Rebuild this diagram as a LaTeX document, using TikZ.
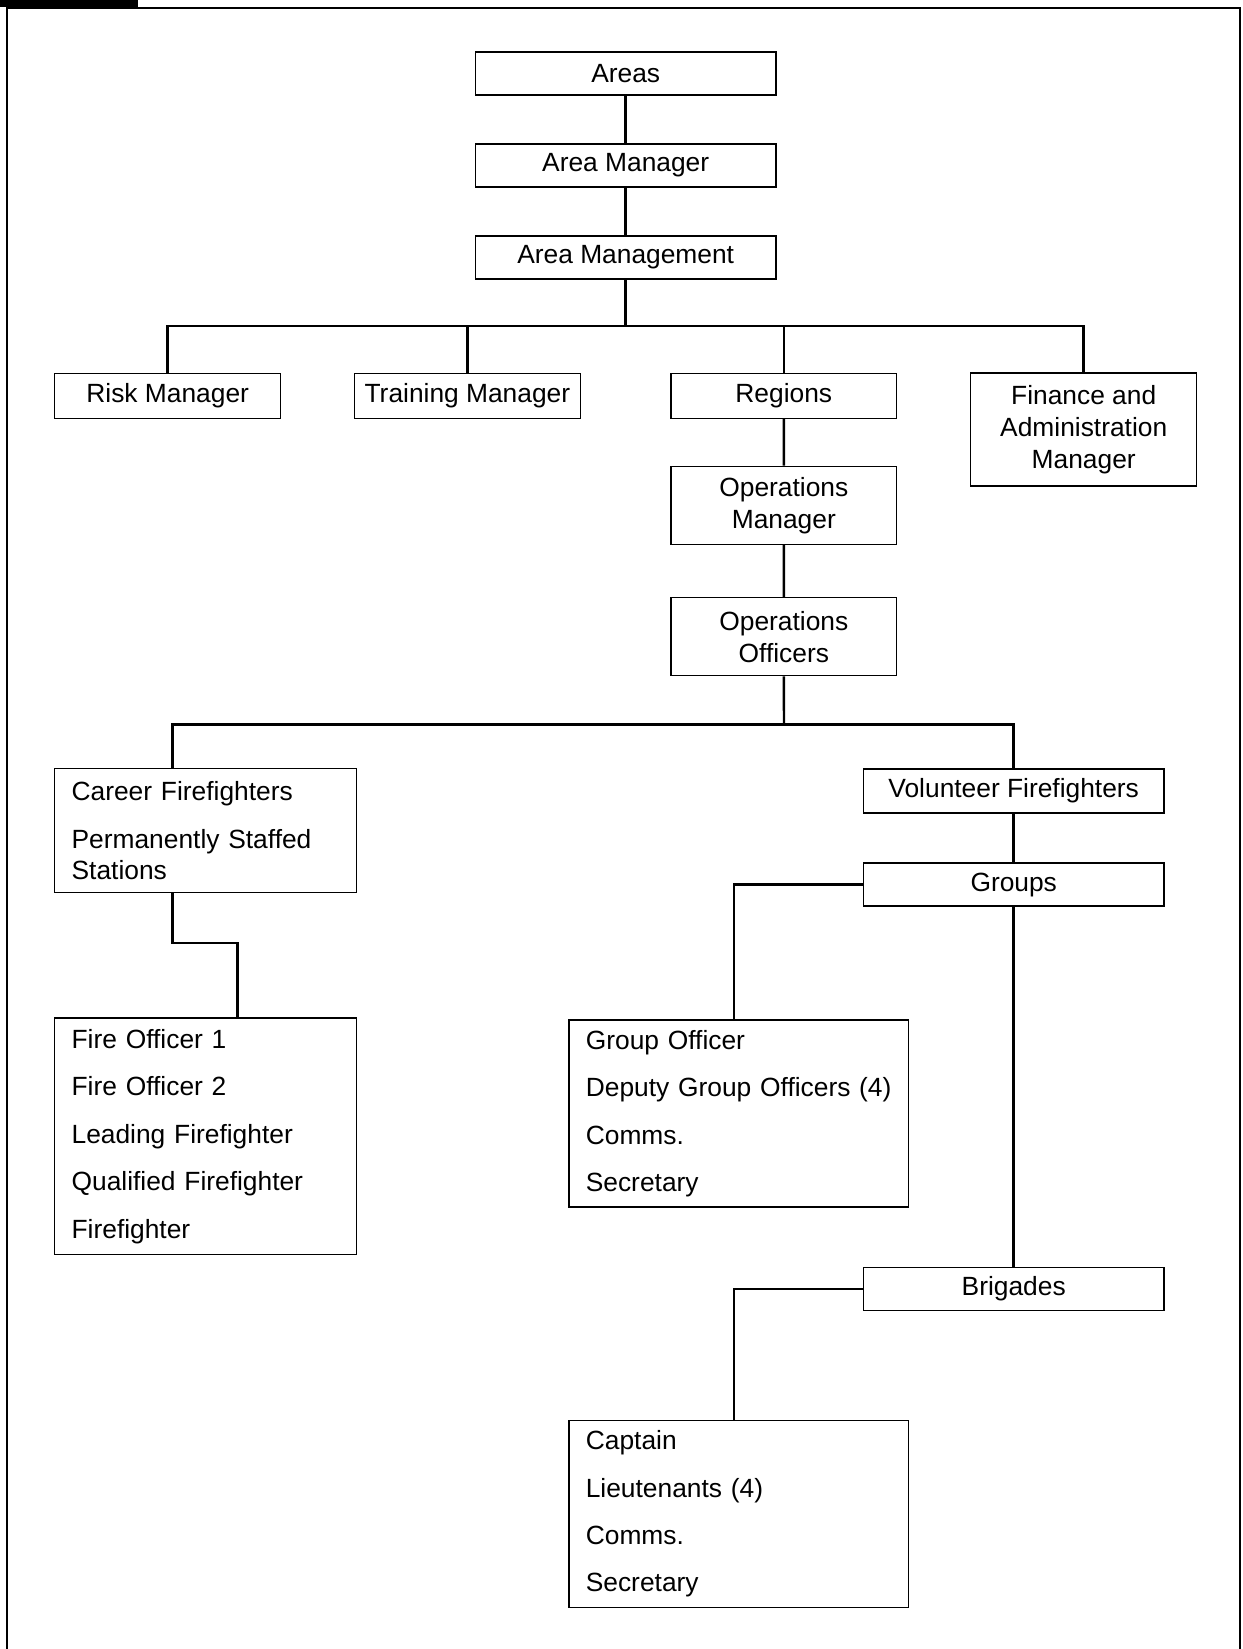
\documentclass[tikz,border=0pt]{standalone}
\usepackage{fontspec}
\setmainfont{Liberation Sans}
\usetikzlibrary{positioning}

\begin{document}
\begin{tikzpicture}[x=0.02cm,y=-0.02cm,thick,
    font=\fontsize{15}{18}\selectfont,
    box/.style={draw,line width=0.8pt,minimum height=0.86cm,inner sep=2pt,align=center},
    wide/.style={box,minimum width=6.02cm},
    side/.style={box,minimum width=4.52cm,minimum height=0.9cm},
    list/.style={draw,line width=0.8pt,align=left,inner xsep=0.34cm,inner ysep=2pt},
    link/.style={line width=1.4pt}]
  \useasboundingbox (0,0) rectangle (1243,1649);
  \fill (0,0) rectangle (138,7);
  \draw[line width=1.2pt] (7,1649) -- (7,8) -- (1240,8) -- (1240,1649);

  \node[wide] (areas) at (625.7,73.6) {Areas};
  \node[wide] (amgr) [below=0.95cm of areas] {Area Manager};
  \node[wide] (amgmt) [below=0.95cm of amgr] {Area Management};

  \node[side] (risk) at (167.7,396) {Risk Manager};
  \node[side] (train) at (467.4,396) {Training Manager};
  \node[side] (reg) at (783.8,396) {Regions};
  \node[side,minimum height=2.26cm] (fin) at (1083.7,429.6) {Finance and\\Administration\\Manager};
  \node[side,minimum height=1.56cm] (opsm) [below=0.93cm of reg] {Operations\\Manager};
  \node[side,minimum height=1.56cm] (opso) [below=1.04cm of opsm] {Operations\\Officers};

  \node[list,text width=5.36cm,minimum height=2.48cm] (career) at (205.6,830.7)
    {Career Firefighters\\[9pt]Permanently Staffed\\Stations};
  \node[list,text width=5.36cm,minimum height=4.73cm] (fire) at (205.6,1136.3)
    {Fire Officer 1\\[9pt]Fire Officer 2\\[9pt]Leading Firefighter\\[9pt]Qualified Firefighter\\[9pt]Firefighter};

  \node[wide,minimum height=0.88cm] (vol) at (1013.7,790.8) {Volunteer Firefighters};
  \node[wide] (grp) [below=0.98cm of vol] {Groups};
  \node[wide] (brig) at (1013.7,1289) {Brigades};
  \node[list,text width=6.12cm,minimum height=3.74cm] (gobox) at (738.8,1113.5)
    {Group Officer\\[9pt]Deputy Group Officers (4)\\[9pt]Comms.\\[9pt]Secretary};
  \node[list,text width=6.12cm,minimum height=3.74cm] (capbox) at (738.8,1513.9)
    {Captain\\[9pt]Lieutenants (4)\\[9pt]Comms.\\[9pt]Secretary};

  \coordinate (b1) at (625.7,326);
  \coordinate (b2) at (784,724.5);
  \coordinate (cd) at (172.5,724.5);
  \coordinate (cb) at (172.5,943);
  \coordinate (fb) at (237.7,943);
  \coordinate (gd) at (734,900);

  \draw[link] (areas) -- (amgr) -- (amgmt) -- (b1);
  \draw[link] (risk.north) |- (b1) -| (fin.north);
  \draw[link] (train.north) -- (train.north |- b1);
  \draw[link] (reg.north) -- (reg.north |- b1);
  \draw[link] (reg) -- (opsm) -- (opso) -- (b2);
  \draw[link] (cd |- career.north) -- (cd) -- (b2) -| (vol.north);
  \draw[link] (cb |- career.south) -- (cb) -- (fb) -- (fb |- fire.north);
  \draw[link] (vol) -- (grp) -- (brig);
  \draw[link] (grp.west) -| (gd |- gobox.north);
  \draw[link] (brig.west) -| (gd |- capbox.north);
\end{tikzpicture}
\end{document}
